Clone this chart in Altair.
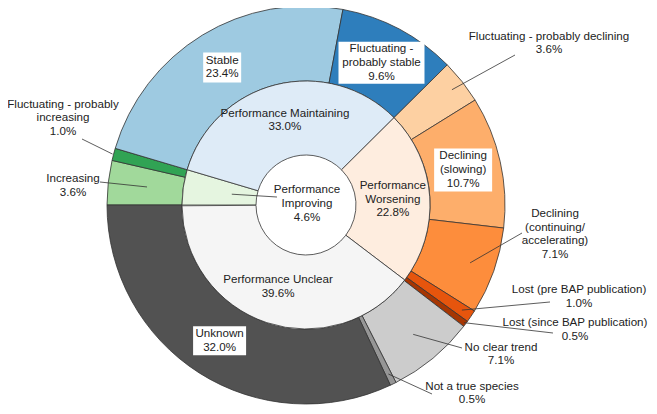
import math
import pandas as pd
import altair as alt

# ---------------- data ----------------
inner_names = ["Performance\nImproving", "Performance Maintaining",
               "Performance\nWorsening", "Performance Unclear"]
inner_values = [4.6, 33.0, 22.8, 39.6]
inner_colors = ["#e5f5e0", "#deebf7", "#feeddf", "#f5f5f5"]

outer_names = ["Increasing", "Fluctuating  - probably\nincreasing", "Stable",
               "Fluctuating -\nprobably stable", "Fluctuating  - probably declining",
               "Declining\n(slowing)", "Declining\n(continuing/\naccelerating)",
               "Lost (pre BAP publication)", "Lost (since BAP publication)",
               "No clear trend", "Not a true species", "Unknown"]
outer_values = [3.6, 1.0, 23.4, 9.6, 3.6, 10.7, 7.1, 1.0, 0.5, 7.1, 0.5, 32.0]
outer_colors = ["#a1d99b", "#31a354", "#9ecae1", "#2e7ebc", "#fdd0a2", "#fdae6b",
                "#fd8d3c", "#e6550d", "#a63603", "#cccccc", "#969696", "#525252"]

# ---------------- layout ----------------
CX, CY = 298, 197
R_OUT, R_MID, R_IN = 199, 124, 50
START = 1.5 * math.pi
FONT = "Liberation Sans"
FS = 11.6
LH = 13.8
TXT = "#222222"

# per outer label: ("box", w, h) or ("lead", text_x, text_y, end_x, end_y, start_r)
outer_layout = [
    ("lead", 65, 178, 92, 174, 160),
    ("lead", 55, 110.5, 74, 131, 200),
    ("box", 38, 30),
    ("box", 86, 42),
    ("lead", 541, 35.5, 507, 47, 186),
    ("box", 58, 43),
    ("lead", 547, 226.5, 514, 225, 174),
    ("lead", 571, 289, 542, 294, 188),
    ("lead", 567, 322, 545, 325, 197),
    ("lead", 493, 346.5, 454, 340, 168),
    ("lead", 464, 385.5, 424, 386, 188),
    ("box", 53, 29),
]
BOX_R = 161
INNER_R = 87


def mid_angles(values):
    tot = sum(values)
    out, cum = [], 0.0
    for v in values:
        out.append(START + 2 * math.pi * (cum + v / 2) / tot)
        cum += v
    return out


def polar(r, a):
    return CX + r * math.sin(a), CY - r * math.cos(a)


def text_row(x, y, label):
    # Vega anchors the first line at y; shift so the block is centred on y
    n = label.count("\n") + 1
    return {"x": x, "y": y - (n - 1) * LH / 2, "t": label}


inner_df = pd.DataFrame({"name": inner_names, "value": inner_values,
                         "idx": range(len(inner_values))})
outer_df = pd.DataFrame({"name": outer_names, "value": outer_values,
                         "idx": range(len(outer_values))})

theta_scale = alt.Scale(range=[START, START + 2 * math.pi])

outer_arc = alt.Chart(outer_df).mark_arc(
    radius=R_OUT, radius2=R_MID, stroke="#333333", strokeWidth=0.8
).encode(
    theta=alt.Theta("value:Q", stack=True, scale=theta_scale),
    order=alt.Order("idx:Q", sort="ascending"),
    color=alt.Color("name:N", scale=alt.Scale(domain=outer_names, range=outer_colors), legend=None),
    x=alt.value(CX), y=alt.value(CY),
)

inner_arc = alt.Chart(inner_df).mark_arc(
    radius=R_MID, radius2=R_IN, stroke="#333333", strokeWidth=0.8
).encode(
    theta=alt.Theta("value:Q", stack=True, scale=theta_scale),
    order=alt.Order("idx:Q", sort="ascending"),
    color=alt.Color("name:N", scale=alt.Scale(domain=inner_names, range=inner_colors), legend=None),
    x=alt.value(CX), y=alt.value(CY),
)

# ---------------- labels ----------------
texts, boxes, leads = [], [], []
for name, v, a, lay in zip(outer_names, outer_values, mid_angles(outer_values), outer_layout):
    label = f"{name}\n{v:.1f}%"
    if lay[0] == "box":
        x, y = polar(BOX_R, a)
        w, h = lay[1], lay[2]
        boxes.append({"x1": x - w / 2, "x2": x + w / 2, "y1": y - h / 2, "y2": y + h / 2})
        texts.append(text_row(x, y, label))
    else:
        tx, ty, ex, ey, r0 = lay[1:]
        sx, sy = polar(r0, a)
        leads.append({"x1": sx, "y1": sy, "x2": ex, "y2": ey})
        texts.append(text_row(tx, ty, label))

for name, v, a in zip(inner_names, inner_values, mid_angles(inner_values)):
    label = f"{name}\n{v:.1f}%"
    if name.startswith("Performance\nImproving"):
        sx, sy = polar(75, a)
        leads.append({"x1": sx, "y1": sy, "x2": 269, "y2": 189})
        texts.append(text_row(CX + 1, CY - 1, label))
    else:
        x, y = polar(INNER_R, a)
        texts.append(text_row(x, y, label))

box_layer = alt.Chart(pd.DataFrame(boxes)).mark_rect(fill="white", stroke=None).encode(
    x=alt.X("x1:Q", scale=None, axis=None), x2="x2:Q",
    y=alt.Y("y1:Q", scale=None, axis=None), y2="y2:Q",
)

lead_layer = alt.Chart(pd.DataFrame(leads)).mark_rule(color="#333333", strokeWidth=0.8).encode(
    x=alt.X("x1:Q", scale=None, axis=None), x2="x2:Q",
    y=alt.Y("y1:Q", scale=None, axis=None), y2="y2:Q",
)

text_layer = alt.Chart(pd.DataFrame(texts)).mark_text(
    font=FONT, fontSize=FS, color=TXT, lineBreak="\n", lineHeight=LH,
    align="center", baseline="middle"
).encode(
    x=alt.X("x:Q", scale=None, axis=None),
    y=alt.Y("y:Q", scale=None, axis=None),
    text="t:N",
)

chart = alt.layer(outer_arc, inner_arc, lead_layer, box_layer, text_layer).resolve_scale(
    color="independent", theta="shared"
).properties(
    width=641, height=398, padding=0, autosize="none"
).configure_view(stroke=None)

chart.save("out.html", embed_options={"renderer": "svg", "actions": False})
